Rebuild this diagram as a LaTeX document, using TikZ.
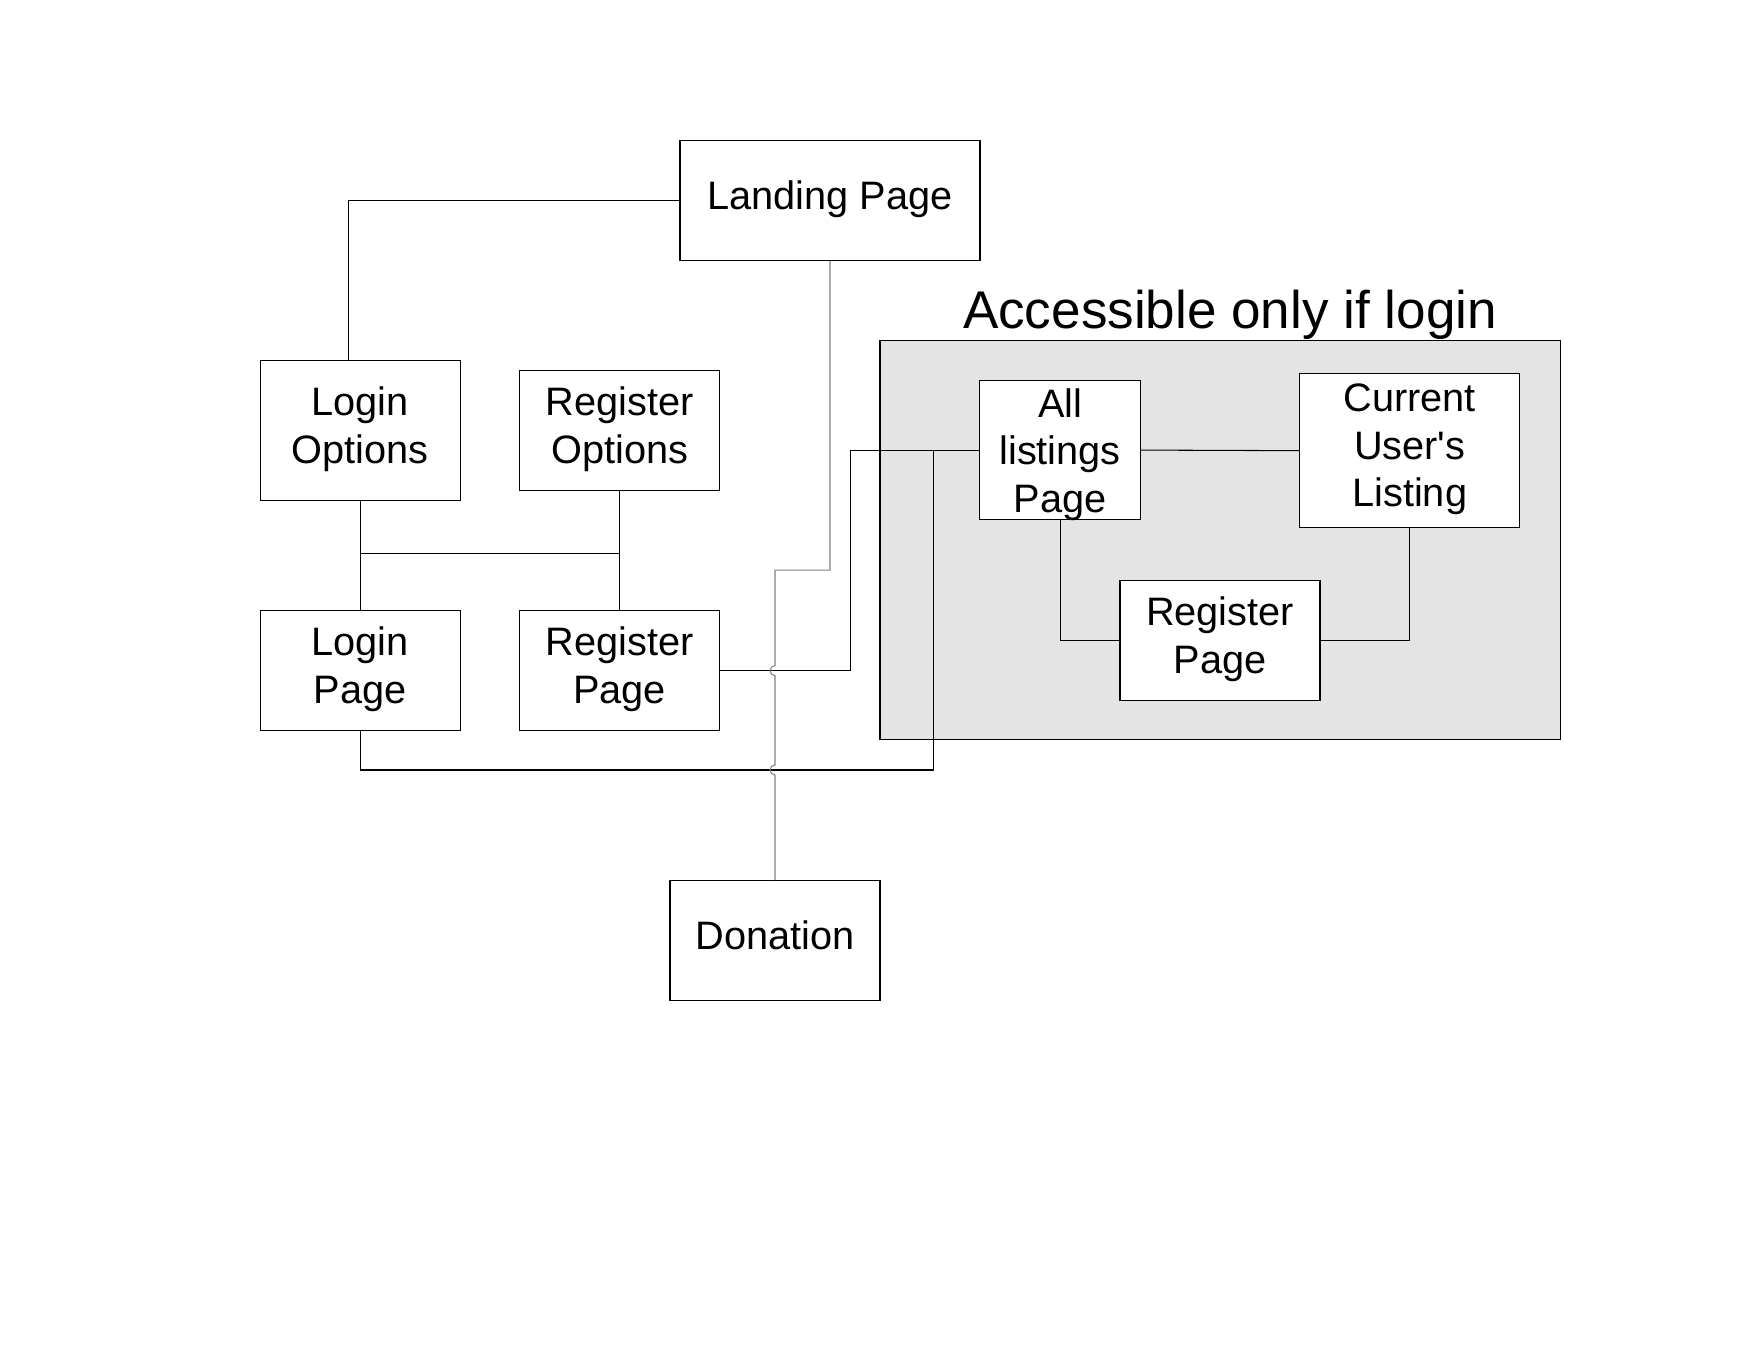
\documentclass[tikz,border=0pt]{standalone}
\usepackage{fontspec}
\setmainfont{Liberation Sans}
\usepackage{xcolor}
\usepackage{tikz}
\usetikzlibrary{positioning,calc}

\definecolor{zonegray}{HTML}{E4E4E4}
\newcommand{\pagefont}{\fontsize{11.3}{13.6}\selectfont}
\newcommand{\titlefont}{\fontsize{15.1}{18}\selectfont}

\begin{document}
\begin{tikzpicture}[
  page/.style={draw, fill=white, align=center, inner sep=0pt, line width=0.3pt, font=\pagefont,
    execute at end node={\rule[-1.1mm]{0pt}{1mm}}},
  pagetext/.style={font=\pagefont, align=center, inner sep=0pt},
  link/.style={line width=0.3pt},
  hopline/.style={line width=0.3pt, gray}
]
\useasboundingbox (0,0) rectangle (17.6,13.6);

% Login-only zone
\fill[zonegray] (8.80,6.203) rectangle (15.602,10.199);
\draw[link] (8.80,6.203) rectangle (15.602,10.199);
\node[font=\titlefont, anchor=base] (zonetitle) at (12.30,10.31) {Accessible only if login};

% Public pages
\node[page, minimum width=3.00cm, minimum height=1.20cm] (landing) at (8.30,11.596) {Landing Page};
\node[page, minimum width=2.00cm, minimum height=1.40cm] (loginopt) at (3.603,9.295) {Login\\Options};
\node[page, minimum width=2.00cm, minimum height=1.20cm] (regopt) at (6.196,9.295) {Register\\Options};
\node[page, minimum width=2.00cm, minimum height=1.20cm] (loginpg) at (3.603,6.894) {Login\\Page};
\node[page, minimum width=2.00cm, minimum height=1.20cm] (regpg) at (6.196,6.894) {Register\\Page};
\node[page, minimum width=2.10cm, minimum height=1.20cm] (donation) at (7.75,4.194) {Donation};

% Pages behind login
\node[page, minimum width=1.605cm, minimum height=1.39cm,
  label={[pagetext, yshift=-0.45mm]center:All\\listings\\Page}] (listings) at (10.601,9.099) {};
\node[page, minimum width=2.20cm, minimum height=1.54cm] (current) at (14.097,9.093) {Current\\User\textquotesingle s\\Listing};
\node[page, minimum width=2.00cm, minimum height=1.20cm] (regin) at (12.20,7.197) {Register\\Page};

% Helper points
\coordinate (optbar) at (0,8.067);
\coordinate (hopA) at (7.75,6.894);
\coordinate (hopB) at (7.75,5.90);

% Landing to login options
\draw[link] (landing.west) -| ([xshift=-1.2mm]loginopt.north);

% Options to pages
\draw[link] (loginopt.south) -- (loginpg.north);
\draw[link] (regopt.south) -- (regpg.north);
\draw[link] (loginopt.south |- optbar) -- (regopt.south |- optbar);

% Pages into the login zone
\draw[link] (regpg.east) -- ++(1.30,0) |- (listings.west);
\draw[link] (loginpg.south) |- (9.335,5.90) |- (listings.west);

% Landing to donation (hops over the other lines)
\draw[hopline] (landing.south) |- (8.0,7.898) -| ([yshift=0.5mm]hopA)
  arc[start angle=90, end angle=270, radius=0.5mm] -- ([yshift=0.5mm]hopB)
  arc[start angle=90, end angle=270, radius=0.5mm] -- (donation.north);

% Inside the zone
\draw[link] (listings.east) -- (current.west);
\draw[link] (listings.south) |- (regin.west);
\draw[link] (regin.east) -| (current.south);

\end{tikzpicture}
\end{document}
